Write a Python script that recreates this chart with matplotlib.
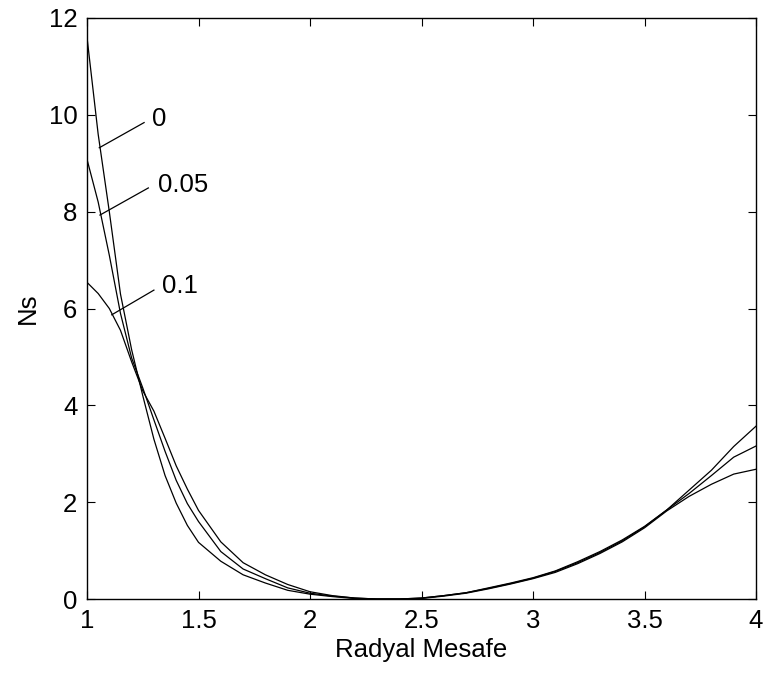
import matplotlib
matplotlib.use('Agg')
import matplotlib.pyplot as plt
import numpy as np

# radial distance grid shared by all three curves
radyal = [1.0, 1.05, 1.1, 1.15, 1.2, 1.25, 1.3, 1.35, 1.4, 1.45, 1.5, 1.6,
          1.7, 1.8, 1.9, 2.0, 2.1, 2.2, 2.3, 2.4, 2.5, 2.6, 2.7, 2.8, 2.9,
          3.0, 3.1, 3.2, 3.3, 3.4, 3.5, 3.6, 3.7, 3.8, 3.9, 4.0]

ns_0 = [11.6, 9.6, 8.0, 6.3, 5.15, 4.2, 3.3, 2.55, 1.98, 1.52, 1.17, 0.78,
        0.5, 0.33, 0.18, 0.1, 0.05, 0.01, 0.0, 0.0, 0.02, 0.07, 0.13, 0.23,
        0.33, 0.44, 0.58, 0.77, 0.98, 1.22, 1.5, 1.84, 2.25, 2.66, 3.15, 3.57]

ns_005 = [9.08, 8.2, 7.1, 5.9, 4.98, 4.36, 3.7, 3.05, 2.45, 1.97, 1.6, 0.98,
          0.62, 0.42, 0.23, 0.12, 0.06, 0.02, 0.0, 0.0, 0.02, 0.07, 0.13,
          0.22, 0.32, 0.43, 0.57, 0.75, 0.96, 1.2, 1.49, 1.84, 2.18, 2.55,
          2.93, 3.16]

ns_01 = [6.54, 6.31, 6.0, 5.55, 4.9, 4.3, 3.88, 3.32, 2.75, 2.27, 1.83, 1.18,
         0.75, 0.5, 0.3, 0.15, 0.07, 0.02, 0.0, 0.0, 0.01, 0.06, 0.12, 0.21,
         0.31, 0.42, 0.55, 0.73, 0.94, 1.18, 1.47, 1.82, 2.12, 2.37, 2.58,
         2.68]

etiketler = ['0', '0.05', '0.1']
# (line start x, y, line end x, y, text x, y)
etiket_yer = [
    (1.055, 9.32, 1.256, 9.84, 1.29, 9.92),
    (1.058, 7.93, 1.275, 8.49, 1.32, 8.55),
    (1.111, 5.87, 1.300, 6.38, 1.335, 6.46),
]

plt.rcParams['font.family'] = ['Liberation Sans', 'DejaVu Sans']

fig = plt.figure(figsize=(7.68, 6.79), dpi=100)
ax = fig.add_axes([0.1133, 0.1178, 0.8711, 0.8557])

for ys in (ns_0, ns_005, ns_01):
    ax.plot(radyal, ys, color='black', linewidth=0.9)

for lbl, (x0, y0, x1, y1, tx, ty) in zip(etiketler, etiket_yer):
    ax.plot([x0, x1], [y0, y1], color='black', linewidth=0.9)
    ax.text(tx, ty, lbl, fontsize=18.5, ha='left', va='center')

ax.set_xlim(1, 4)
ax.set_ylim(0, 12)
ax.set_xticks([1, 1.5, 2, 2.5, 3, 3.5, 4])
ax.set_xticklabels(['1', '1.5', '2', '2.5', '3', '3.5', '4'])
ax.set_yticks([0, 2, 4, 6, 8, 10, 12])
ax.tick_params(direction='in', top=True, right=True, length=6,
               labelsize=18.5, pad=7)
for s in ax.spines.values():
    s.set_linewidth(1.0)

ax.set_xlabel('Radyal Mesafe', fontsize=18.5, labelpad=4)
ax.set_ylabel('Ns', fontsize=18.5, labelpad=6)

fig.savefig('out.png', dpi=100)
